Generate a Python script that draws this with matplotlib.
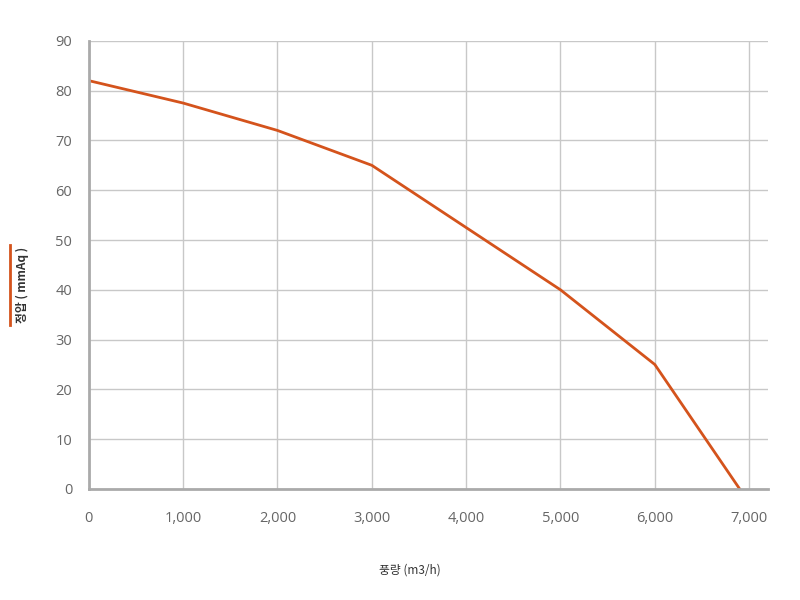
import matplotlib
matplotlib.use("Agg")
import matplotlib.pyplot as plt
from matplotlib.lines import Line2D
from matplotlib.ticker import FuncFormatter

plt.rcParams['font.family'] = ['Noto Sans CJK KR', 'DejaVu Sans']

flow = [0, 1000, 2000, 3000, 5000, 6000, 6900]
pressure = [82, 77.5, 72, 65, 40, 25, 0]
x_ticks = [0, 1000, 2000, 3000, 4000, 5000, 6000, 7000]
y_ticks = [0, 10, 20, 30, 40, 50, 60, 70, 80, 90]
x_label = "풍량 (m3/h)"
y_label = "정압 ( mmAq )"

line_color = '#d4531c'

fig = plt.figure(figsize=(8, 6), dpi=100)
ax = fig.add_axes([0.111, 0.185, 0.849, 0.747])

ax.plot(flow, pressure, color=line_color, linewidth=2, solid_joinstyle='miter')
ax.set_xlim(0, 7200)
ax.set_ylim(0, 90)
ax.set_xticks(x_ticks)
ax.set_yticks(y_ticks)
ax.xaxis.set_major_formatter(FuncFormatter(lambda v, p: f"{int(v):,}"))
ax.grid(True, color='#c8c8c8', linewidth=1)
ax.set_axisbelow(True)
for s in ['top', 'right']:
    ax.spines[s].set_visible(False)
for s in ['left', 'bottom']:
    ax.spines[s].set_color('#aaaaaa')
    ax.spines[s].set_linewidth(2)
ax.tick_params(axis='both', length=0, labelsize=10.5, labelcolor='#666666', pad=12)
ax.tick_params(axis='x', pad=16)
for lbl in ax.get_xticklabels() + ax.get_yticklabels():
    lbl.set_fontfamily(['Open Sans', 'DejaVu Sans'])

fig.text(0.512, 0.05, x_label, ha='center', va='center', fontsize=8.5, color='#333333')
fig.text(0.028, 0.525, y_label, ha='center', va='center', rotation=90, fontsize=8.5,
         color='#333333', fontweight='bold')
fig.add_artist(Line2D([0.0125, 0.0125], [0.458, 0.592], color=line_color, linewidth=2,
                      transform=fig.transFigure))

fig.savefig('out.png', dpi=100)
